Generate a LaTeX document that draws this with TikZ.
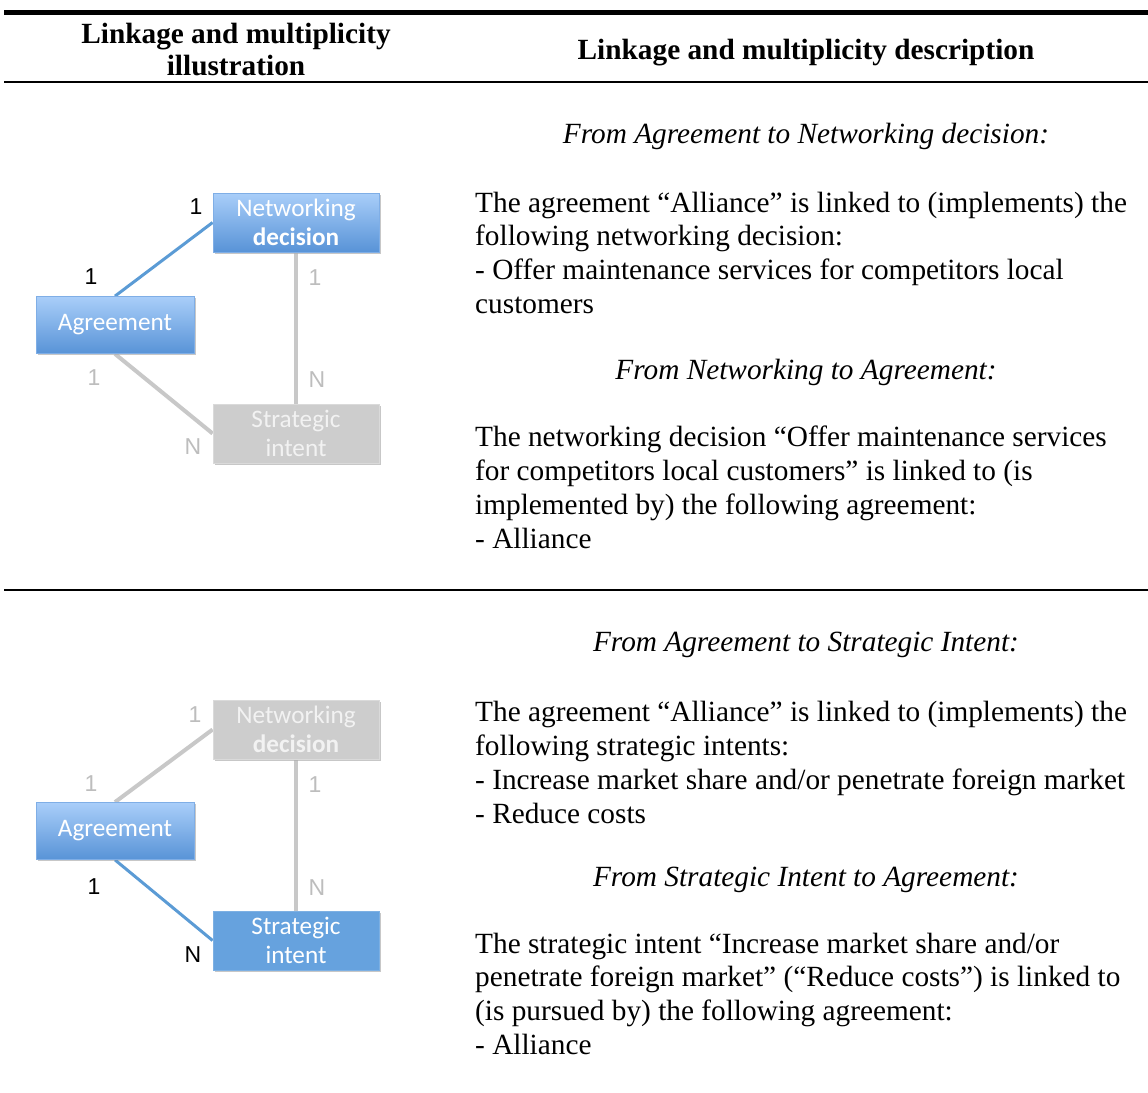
\documentclass[tikz,border=0pt]{standalone}
\usepackage{fontspec}
\setmainfont{Liberation Serif}
\newfontfamily\boxfont{Carlito}
\newfontfamily\numfont{Liberation Sans}
\usetikzlibrary{shadows}
\definecolor{boxtop}{HTML}{A9CEF9}
\definecolor{boxbot}{HTML}{5893D7}
\definecolor{boxedge}{HTML}{7FAEE6}
\definecolor{flatblue}{HTML}{66A2DE}
\definecolor{greyfill}{HTML}{CDCDCD}
\definecolor{greyedge}{HTML}{DADADA}
\definecolor{greytext}{HTML}{F2F2F2}
\definecolor{linkblue}{HTML}{5B9BD5}
\definecolor{linkgrey}{HTML}{C8C8C8}
\definecolor{numgrey}{HTML}{BDBDBD}
\tikzset{
  entity/.style={minimum width=158pt, minimum height=57pt, inner sep=0pt,
    align=center, text=white, font=\boxfont\fontsize{25.2}{29}\selectfont,
    drop shadow={opacity=0.25, shadow xshift=1.5pt, shadow yshift=-1.5pt}},
  wide/.style={minimum width=166pt, minimum height=59pt},
  active/.style={entity, top color=boxtop, bottom color=boxbot, draw=boxedge, line width=0.8pt},
  flat/.style={entity, fill=flatblue, draw=flatblue!85!white, line width=0.8pt},
  idle/.style={entity, fill=greyfill, draw=greyedge, line width=0.8pt, text=greytext},
  onlink/.style={draw=linkblue, line width=3pt},
  offlink/.style={draw=linkgrey, line width=4pt},
  mult/.style={font=\numfont\fontsize{23}{23}\selectfont, inner sep=0pt},
  multon/.style={mult, text=black},
  multoff/.style={mult, text=numgrey},
  body/.style={anchor=base west, inner sep=0pt, font=\fontsize{29.3}{33.8}\selectfont},
  lead/.style={anchor=base, inner sep=0pt, font=\itshape\fontsize{29.3}{33.8}\selectfont},
  headtxt/.style={anchor=base, inner sep=0pt, font=\bfseries\fontsize{29.3}{32}\selectfont},
}
\begin{document}
\begin{tikzpicture}[x=1pt, y=-1pt]
\useasboundingbox (0,0) rectangle (1148,1092);

% table rules
\draw[line width=5.5pt] (4,12.3) -- (1148,12.3);
\draw[line width=1.3pt] (4,82) -- (1148,82);
\draw[line width=1.3pt] (4,590) -- (1148,590);

% header
\node[headtxt] (h1a) at (236,43) {Linkage and multiplicity};
\node[headtxt] (h1b) at (236,75) {illustration};
\node[headtxt] (h2) at (806,59) {Linkage and multiplicity description};

% ---- first row: agreement -> networking decision highlighted
\node[active] (a1) at (115,325) {Agreement};
\node[active, wide] (n1) at (296,222.5) {Networking\\\textbf{decision}};
\node[idle, wide] (s1) at (296,433.5) {Strategic\\intent};
\draw[onlink] (a1.north) -- (n1.west);
\draw[offlink] (n1.south) -- (s1.north);
\draw[offlink] (a1.south) -- (s1.west);
% boxes redrawn over the link ends
\node[active] at (a1) {Agreement};
\node[active, wide] at (n1) {Networking\\\textbf{decision}};
\node[idle, wide] at (s1) {Strategic\\intent};

\node[multon] (m1a) at (196,207) {1};
\node[multon] (m1b) at (91,277) {1};
\node[multoff] (m1c) at (315,278) {1};
\node[multoff] (m1d) at (317,380) {N};
\node[multoff] (m1e) at (94,378) {1};
\node[multoff] (m1f) at (193,447) {N};

% ---- second row: agreement -> strategic intent highlighted
\node[active] (a2) at (115,831) {Agreement};
\node[idle, wide] (n2) at (296,729.5) {Networking\\\textbf{decision}};
\node[flat, wide] (s2) at (296,940.5) {Strategic\\intent};
\draw[offlink] (a2.north) -- (n2.west);
\draw[offlink] (n2.south) -- (s2.north);
\draw[onlink] (a2.south) -- (s2.west);
\node[active] at (a2) {Agreement};
\node[idle, wide] at (n2) {Networking\\\textbf{decision}};
\node[flat, wide] at (s2) {Strategic\\intent};

\node[multoff] (m2a) at (195,715) {1};
\node[multoff] (m2b) at (91,784) {1};
\node[multoff] (m2c) at (315,785) {1};
\node[multoff] (m2d) at (317,888) {N};
\node[multon] (m2e) at (94,887) {1};
\node[multon] (m2f) at (193,955) {N};

% ---- descriptions
\node[lead] (t1) at (806,143) {From Agreement to Networking decision:};
\node[body] (t1a) at (475,212) {The agreement “Alliance” is linked to (implements) the};
\node[body] (t1b) at (475,245.8) {following networking decision:};
\node[body] (t1c) at (475,279.5) {- Offer maintenance services for competitors local};
\node[body] (t1d) at (475,313.3) {customers};

\node[lead] (t2) at (806,379) {From Networking to Agreement:};
\node[body] (t2a) at (475,446.7) {The networking decision “Offer maintenance services};
\node[body] (t2b) at (475,480.5) {for competitors local customers” is linked to (is};
\node[body] (t2c) at (475,514.3) {implemented by) the following agreement:};
\node[body] (t2d) at (475,548) {- Alliance};

\node[lead] (t3) at (806,651.7) {From Agreement to Strategic Intent:};
\node[body] (t3a) at (475,721.7) {The agreement “Alliance” is linked to (implements) the};
\node[body] (t3b) at (475,755.5) {following strategic intents:};
\node[body] (t3c) at (475,789.3) {- Increase market share and/or penetrate foreign market};
\node[body] (t3d) at (475,823) {- Reduce costs};

\node[lead] (t4) at (806,886) {From Strategic Intent to Agreement:};
\node[body] (t4a) at (475,953) {The strategic intent “Increase market share and/or};
\node[body] (t4b) at (475,986.8) {penetrate foreign market” (“Reduce costs”) is linked to};
\node[body] (t4c) at (475,1020.5) {(is pursued by) the following agreement:};
\node[body] (t4d) at (475,1054.3) {- Alliance};
\end{tikzpicture}
\end{document}
